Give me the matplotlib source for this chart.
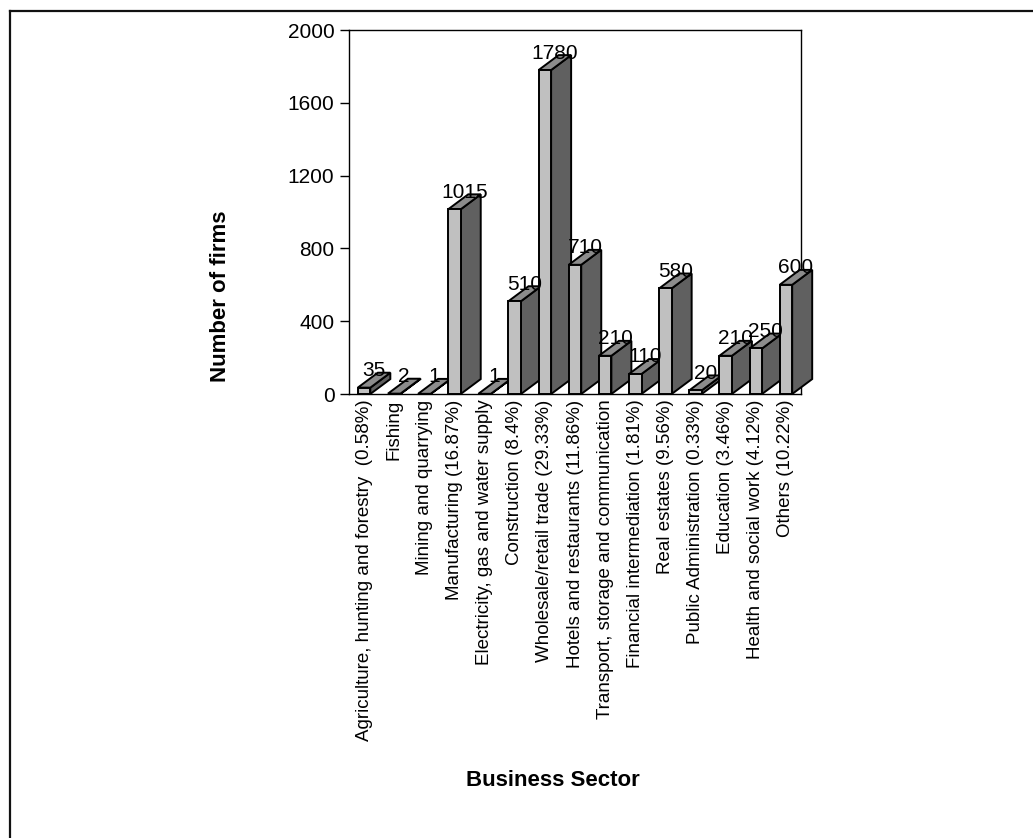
import matplotlib
matplotlib.use('Agg')
import matplotlib.pyplot as plt
from matplotlib.patches import Rectangle, Polygon
from matplotlib.lines import Line2D

# firms per business sector
sectors = [
    'Agriculture, hunting and forestry  (0.58%)',
    'Fishing',
    'Mining and quarrying',
    'Manufacturing (16.87%)',
    'Electricity, gas and water supply',
    'Construction (8.4%)',
    'Wholesale/retail trade (29.33%)',
    'Hotels and restaurants (11.86%)',
    'Transport, storage and communication',
    'Financial intermediation (1.81%)',
    'Real estates (9.56%)',
    'Public Administration (0.33%)',
    'Education (3.46%)',
    'Health and social work (4.12%)',
    'Others (10.22%)',
]
firms = [35, 2, 1, 1015, 1, 510, 1780, 710, 210, 110, 580, 20, 210, 250, 600]
yticks = [0, 400, 800, 1200, 1600, 2000]

plt.rcParams['font.family'] = ['Liberation Sans', 'DejaVu Sans']

W, H = 1033, 838
fig = plt.figure(figsize=(W / 100, H / 100), dpi=100)

# frame lines (top and left only)
fig.add_artist(Line2D([10 / W, 1], [1 - 11 / H, 1 - 11 / H], color='#111111', lw=1.6))
fig.add_artist(Line2D([10 / W, 10 / W], [0, 1 - 11 / H], color='#111111', lw=1.6))

ax = fig.add_axes([349 / W, 444 / H, 452 / W, 364 / H])
ax.set_xlim(-0.5, len(sectors) - 0.5)
ax.set_ylim(0, 2000)
ax.set_yticks(yticks)
ax.set_xticks(range(len(sectors)))
ax.set_xticklabels(sectors, rotation=90, fontsize=13.5)
ax.tick_params(axis='x', length=0, pad=4)
ax.tick_params(axis='y', length=6.5, width=1, pad=4, labelsize=15)
for s in ax.spines.values():
    s.set_linewidth(1.0)

front_c = '#c0c0c0'
top_c = '#8c8c8c'
side_c = '#606060'
w = 0.415      # width of the front face
dx = 0.664     # depth, in category units
dy = 82        # depth, in value units

for i, v in enumerate(firms):
    left, right = i - w / 2, i + w / 2
    z = 3 + i
    ax.add_patch(Polygon([(right, 0), (right + dx, dy), (right + dx, v + dy), (right, v)],
                         closed=True, fc=side_c, ec='black', lw=1.4, clip_on=False, zorder=z))
    ax.add_patch(Polygon([(left, v), (right, v), (right + dx, v + dy), (left + dx, v + dy)],
                         closed=True, fc=top_c, ec='black', lw=1.4, clip_on=False, zorder=z))
    ax.add_patch(Rectangle((left, 0), w, v, fc=front_c, ec='black', lw=1.4,
                           clip_on=False, zorder=z))

for i, v in enumerate(firms):
    ax.annotate(str(v), (i + dx / 2, v), xytext=(0, 17), textcoords='offset pixels',
                ha='center', va='center', fontsize=15,
                family=['Liberation Sans Narrow', 'Liberation Sans'], zorder=50,
                annotation_clip=False)

fig.text(221 / W, 1 - 296 / H, 'Number of firms', rotation=90, ha='center', va='center',
         fontsize=16, fontweight='bold')
fig.text(553 / W, 1 - 780 / H, 'Business Sector', ha='center', va='center',
         fontsize=16, fontweight='bold')

fig.savefig('out.png', dpi=100)
